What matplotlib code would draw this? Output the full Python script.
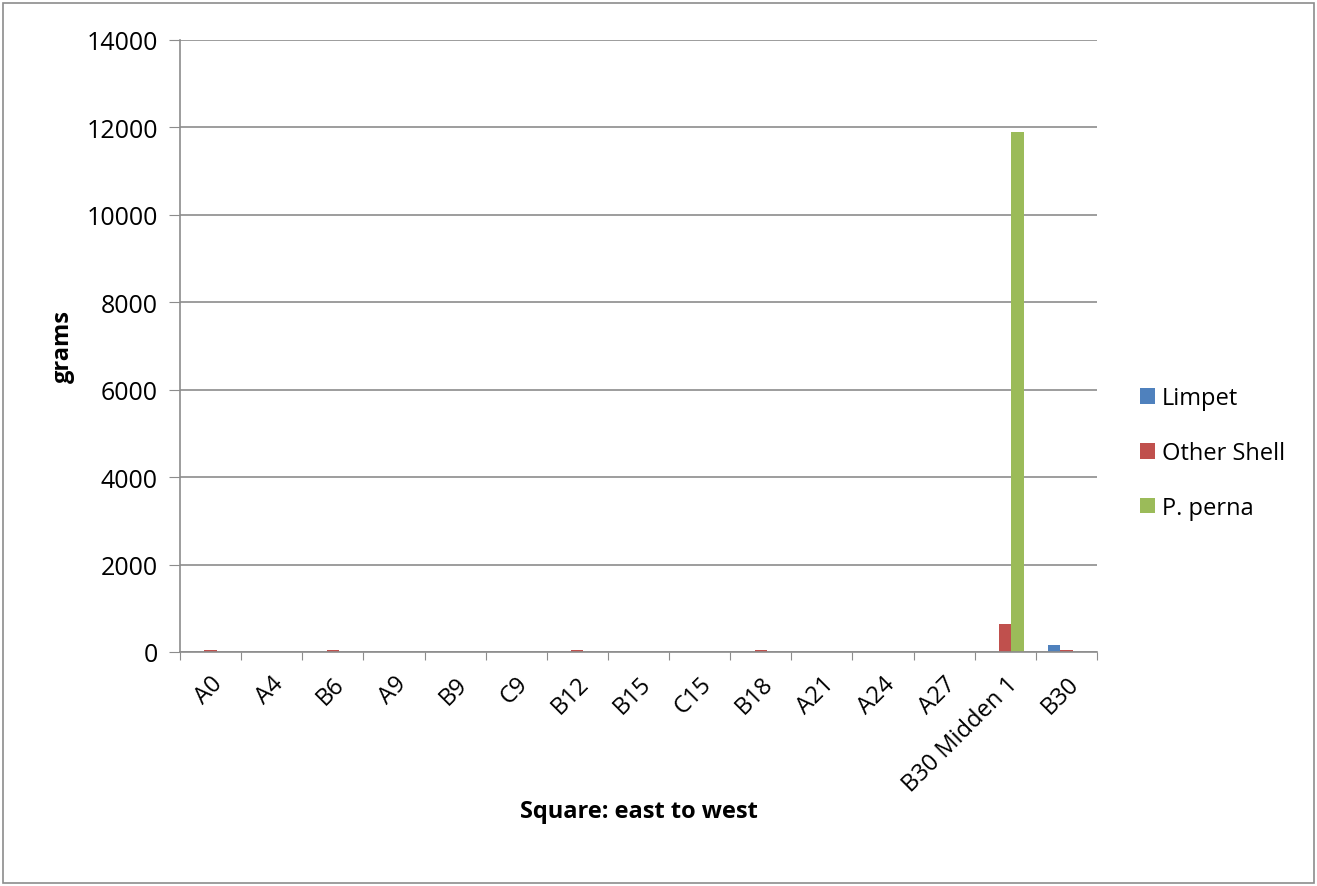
import numpy as np
import matplotlib.pyplot as plt
from matplotlib.patches import Rectangle

plt.rcParams['font.family'] = ['Open Sans', 'DejaVu Sans']

# Shell weights per square (grams)
squares = ["A0", "A4", "B6", "A9", "B9", "C9", "B12", "B15", "C15", "B18",
           "A21", "A24", "A27", "B30 Midden 1", "B30"]
limpet      = [0, 0, 0, 0, 0, 0, 0, 0, 0, 0, 0, 0, 0, 0, 170]
other_shell = [40, 0, 35, 0, 0, 0, 35, 0, 0, 40, 0, 0, 0, 650, 35]
p_perna     = [0, 0, 0, 0, 0, 0, 0, 0, 0, 0, 0, 0, 0, 11900, 0]

fig = plt.figure(figsize=(13.17, 8.87), dpi=100)
ax = fig.add_axes([180/1317, 1-653/887, (1097-180)/1317, (653-41)/887])

x = np.arange(len(squares))
w = 0.2
ax.bar(x - w, limpet, w, color='#4F81BD', label='Limpet')
ax.bar(x, other_shell, w, color='#C0504D', label='Other Shell')
ax.bar(x + w, p_perna, w, color='#9BBB59', label='P. perna')

ax.set_xlim(-0.5, len(squares) - 0.5)
ax.set_ylim(0, 14000)
ax.set_yticks(range(0, 14001, 2000))
ax.yaxis.grid(True, color='#8c8c8c', linewidth=1.2)
ax.set_axisbelow(True)

# category ticks sit between groups, labels at group centres
ax.set_xticks(np.arange(-0.5, len(squares)), minor=False)
ax.set_xticklabels([])
ax.set_xticks(x, minor=True)
ax.set_xticklabels(squares, minor=True, rotation=45, ha='right',
                   rotation_mode='anchor', fontsize=17)
ax.tick_params(axis='x', which='minor', length=0, pad=14)
ax.tick_params(axis='x', which='major', length=6, color='#8c8c8c')
ax.tick_params(axis='y', length=8, color='#8c8c8c', labelsize=18, pad=8)

for s in ['top', 'right']:
    ax.spines[s].set_visible(False)
for s in ['left', 'bottom']:
    ax.spines[s].set_color('#8c8c8c')
    ax.spines[s].set_linewidth(1.2)

ax.set_ylabel('grams', fontsize=17, fontweight='bold', labelpad=8)
fig.text((180+1097)/2/1317, 1-812/887, 'Square: east to west', fontsize=17,
         fontweight='bold', ha='center', va='center')

fig.legend(loc='center left', bbox_to_anchor=(1128/1317, 1-454/887),
           frameon=False, fontsize=17, handlelength=0.65, handleheight=0.65,
           handletextpad=0.3, labelspacing=1.3, borderpad=0)

fig.patches.append(Rectangle((3/1317, 3/887), 1311/1317, 880/887,
                             transform=fig.transFigure, fill=False,
                             edgecolor='#8c8c8c', linewidth=1.2))

fig.savefig('out.png', dpi=100)
